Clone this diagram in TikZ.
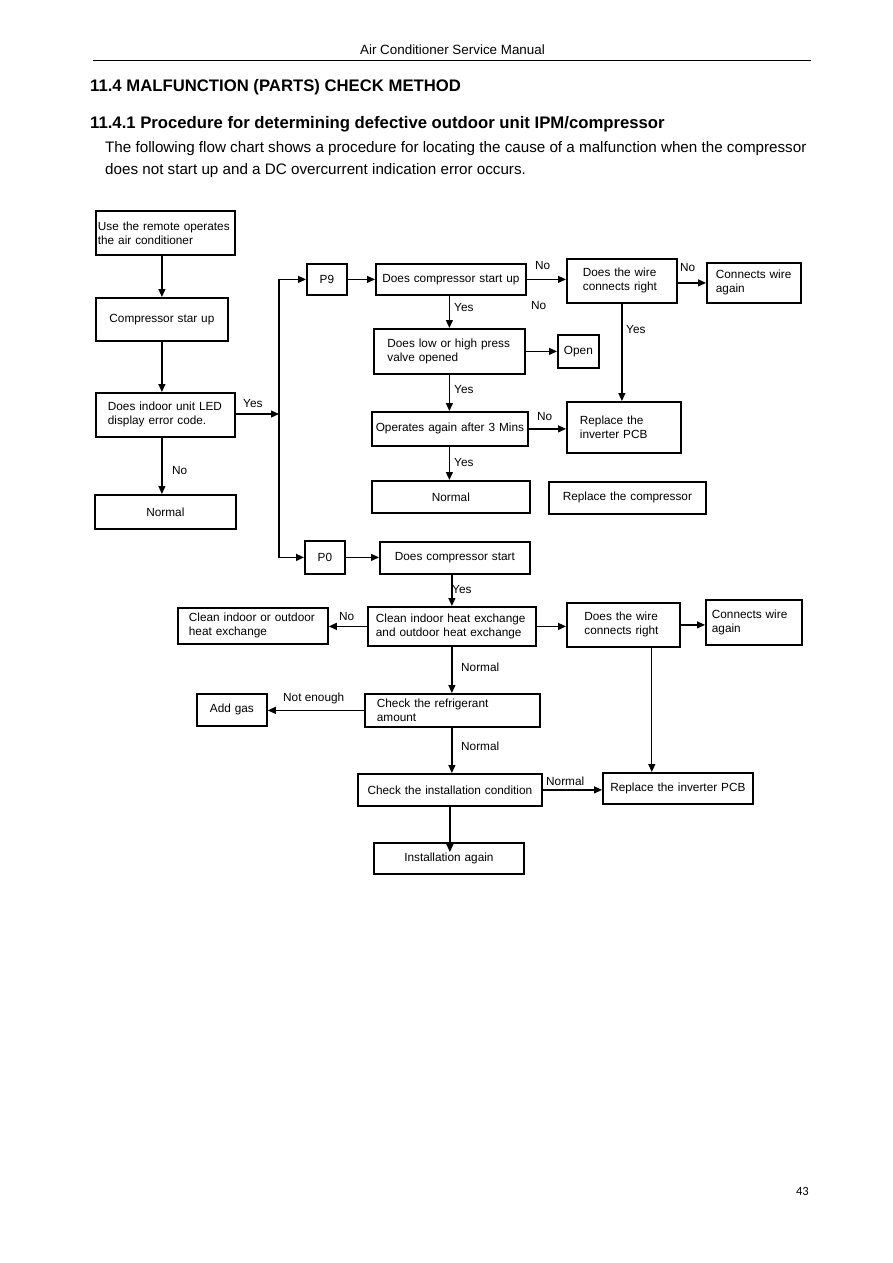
\documentclass[tikz,border=0pt]{standalone}
\usepackage{fontspec}
\setmainfont{Liberation Sans}
\newfontfamily\pgnumfont{Carlito}
\usetikzlibrary{arrows.meta}
\tikzset{
 box/.style={draw, line width=1.8pt, inner sep=0pt, align=left, anchor=north west, font=\fontsize{11.8}{14}\selectfont},
 cbox/.style={box, align=center},
 lbl/.style={anchor=base west, inner sep=0pt, font=\fontsize{11.8}{14}\selectfont},
 arr/.style={line width=1.2pt, -{Triangle[length=8pt,width=7pt]}},
 ln/.style={line width=1.2pt},
}
\newcommand{\bx}[8]{\node[#1, minimum width=#5pt, minimum height=#6pt, text width=#7pt] (#2) at (#3,#4) {#8};}
\begin{document}
\begin{tikzpicture}[x=1pt,y=-1pt]
\fill[white] (0,0) rectangle (892,1263);
\useasboundingbox (0,0) rectangle (892,1263);
% header
\node[anchor=base, inner sep=0pt, font=\fontsize{13.4}{16}\selectfont] (hdr) at (452.5,55) {Air Conditioner Service Manual};
\coordinate (rl) at (93,60.5);
\coordinate (rr) at (811,60.5);
\draw[line width=1.2pt] (rl) -- (rr);
\node[anchor=base west, inner sep=0pt, font=\bfseries\fontsize{16.7}{20}\selectfont] (t1) at (90,92) {11.4 MALFUNCTION (PARTS) CHECK METHOD};
\node[anchor=base west, inner sep=0pt, font=\bfseries\fontsize{16.7}{20}\selectfont] (t2) at (90,128) {11.4.1 Procedure for determining defective outdoor unit IPM/compressor};
\node[anchor=base west, inner sep=0pt, font=\fontsize{15.2}{18}\selectfont] (p1) at (105,152.5) {The following flow chart shows a procedure for locating the cause of a malfunction when the compressor};
\node[anchor=base west, inner sep=0pt, font=\fontsize{15.2}{18}\selectfont] (p2) at (105,174.5) {does not start up and a DC overcurrent indication error occurs.};
\node[anchor=base east, inner sep=0pt, font=\pgnumfont\fontsize{12.5}{14}\selectfont] (pg) at (809,1195) {43};

% boxes
\bx{box}{A}{95}{210}{139}{44}{135}{Use the remote operates\\the air conditioner}
\bx{cbox}{B}{95}{297}{132}{43}{120}{Compressor star up}
\bx{box}{C}{95}{392}{139}{44}{115}{Does indoor unit LED\\display error code.}
\bx{cbox}{D}{94}{494}{141}{34}{120}{Normal}
\bx{cbox}{E}{306}{263}{40}{31}{30}{P9}
\bx{cbox}{F}{375}{263}{150}{31}{140}{Does compressor start up}
\bx{box}{G}{566}{258}{110}{44}{78}{Does the wire\\connects right}
\bx{box}{H}{706}{262}{94}{40}{76}{Connects wire\\again}
\bx{box}{I}{373}{328}{151}{45}{124}{\mbox{Does low or high press}\\valve opened}
\bx{cbox}{J}{557}{334}{41}{33}{35}{Open}
\bx{cbox}{K}{371}{411}{156}{34}{152}{Operates again after 3 Mins}
\bx{box}{L}{566}{401}{114}{51}{88}{Replace the\\inverter PCB}
\bx{cbox}{M}{371}{480}{158}{32}{140}{Normal}
\bx{cbox}{N}{548}{481}{157}{32}{145}{Replace the compressor}
\bx{cbox}{O}{304}{540}{40}{33}{30}{P0}
\bx{cbox}{P}{379}{541}{150}{32}{140}{Does compressor start}
\bx{box}{Q}{367}{606}{168}{39}{152}{Clean indoor heat exchange\\and outdoor heat exchange}
\bx{box}{R}{177}{607}{150}{36}{128}{Clean indoor or outdoor\\heat exchange}
\bx{box}{S}{566}{602}{113}{44}{78}{Does the wire\\connects right}
\bx{box}{T}{705}{599}{96}{45}{84}{Connects wire\\again}
\bx{box}{U}{364}{693}{175}{33}{151}{Check the refrigerant\\amount}
\bx{cbox}{V}{196}{693}{70}{32}{60}{Add gas}
\bx{cbox}{W}{357}{773}{184}{32}{176}{Check the installation condition}
\bx{cbox}{X}{602}{772}{150}{31}{140}{Replace the inverter PCB}
\bx{cbox}{Y}{373}{842}{150}{31}{140}{Installation again}

% connectors
\draw[arr] (B.north |- A.south) -- (B.north);
\draw[arr] (B.south) -- (B.south |- C.north);
\draw[arr] (B.south |- C.south) -- (B.south |- D.north);
\coordinate (busJ) at (279,414);
\draw[arr] (C.east |- busJ) -- (busJ);
\draw[arr] (busJ) |- (E.west);
\draw[arr] (busJ) |- (O.west);
\draw[arr] (E.east) -- (F.west);
\draw[arr] (F.east) -- (F.east -| G.west);
\draw[arr] (G.east |- H.west) -- (H.west);
\draw[arr] (I.north |- F.south) -- (I.north);
\draw[arr] (I.east) -- (J.west);
\draw[arr] (G.south) -- (G.south |- L.north);
\draw[arr] (I.south) -- (I.south |- K.north);
\draw[arr] (K.east) -- (K.east -| L.west);
\draw[arr] (I.south |- K.south) -- (I.south |- M.north);
\draw[arr] (O.east) -- (O.east -| P.west);
\draw[arr] (Q.north |- P.south) -- (Q.north);
\draw[arr] (Q.west) -- (Q.west -| R.east);
\draw[arr] (Q.east) -- (Q.east -| S.west);
\draw[arr] (S.east) -- (S.east -| T.west);
\coordinate (sdn) at ([xshift=-29pt]S.south east);
\draw[arr] (sdn) -- (sdn |- X.north);
\draw[arr] (Q.south) -- (Q.south |- U.north);
\draw[arr] (U.west) -- (U.west -| V.east);
\draw[arr] (Q.south |- U.south) -- (Q.south |- W.north);
\draw[arr] (W.east) -- (W.east -| X.west);
\coordinate (ytip) at ([yshift=-10pt]Y.north);
\draw[arr] (W.south) -- (W.south |- ytip);

% labels
\node[lbl] (l1) at (243,407) {Yes};
\node[lbl] (l2) at (172,474) {No};
\node[lbl] (l3) at (535,269) {No};
\node[lbl] (l4) at (680,271) {No};
\node[lbl] (l5) at (531,309) {No};
\node[lbl] (l6) at (454,311) {Yes};
\node[lbl] (l7) at (626,333) {Yes};
\node[lbl] (l8) at (454,393) {Yes};
\node[lbl] (l9) at (537,420) {No};
\node[lbl] (l10) at (454,466) {Yes};
\node[lbl] (l11) at (452,593) {Yes};
\node[lbl] (l12) at (339,620) {No};
\node[lbl] (l13) at (461,671) {Normal};
\node[lbl] (l14) at (283,701) {Not enough};
\node[lbl] (l15) at (461,750) {Normal};
\node[lbl] (l16) at (546,785) {Normal};
\end{tikzpicture}
\end{document}
